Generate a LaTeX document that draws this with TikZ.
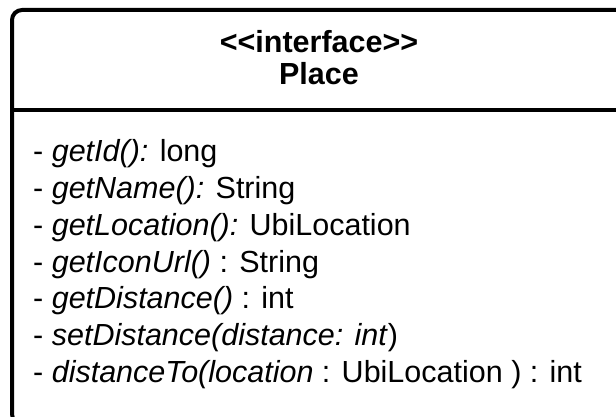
\documentclass[tikz,border=0pt]{standalone}
\usepackage{fontspec}
\setmainfont{Liberation Sans}
\tikzset{
  x=1pt,y=-1pt,
}
\tikzstyle{frame}=[line width=4pt,rounded corners=10pt]
\tikzstyle{head}=[inner sep=0pt,anchor=base,font=\fontsize{30.5}{32}\selectfont\bfseries]
\tikzstyle{member}=[inner sep=0pt,anchor=base west,font=\fontsize{30.5}{36.7}\selectfont]

\begin{document}
\begin{tikzpicture}
        \useasboundingbox (0,0) rectangle (616,417);
        \clip (0,0) rectangle (616,417);
        \draw[frame] (12,10) rectangle (628,424);
        \coordinate (sepl) at (12,110);
        \coordinate (sepr) at (628,110);
        \draw[line width=4pt] (sepl)--(sepr);
        % kern keeps << and >> from turning into guillemets
        \node[head] (stereo) at (319,53) {<\kern0pt<interface>\kern0pt>};
        \node[head] (name) at (319,85) {Place};
        \node[member] (m1) at (33,162) {- \textit{getId():} long};
        \node[member] (m2) at (33,198.7) {- \textit{getName():} String};
        \node[member] (m3) at (33,235.4) {- \textit{getLocation():} UbiLocation};
        \node[member] (m4) at (33,272.1) {- \textit{getIconUrl()} : String};
        \node[member] (m5) at (33,308.8) {- \textit{getDistance()} : int};
        \node[member] (m6) at (33,345.5) {- \textit{setDistance(distance: int})};
        \node[member] (m7) at (33,382.2) {- \textit{distanceTo(location} : UbiLocation ) : int};
      \end{tikzpicture}
\end{document}
